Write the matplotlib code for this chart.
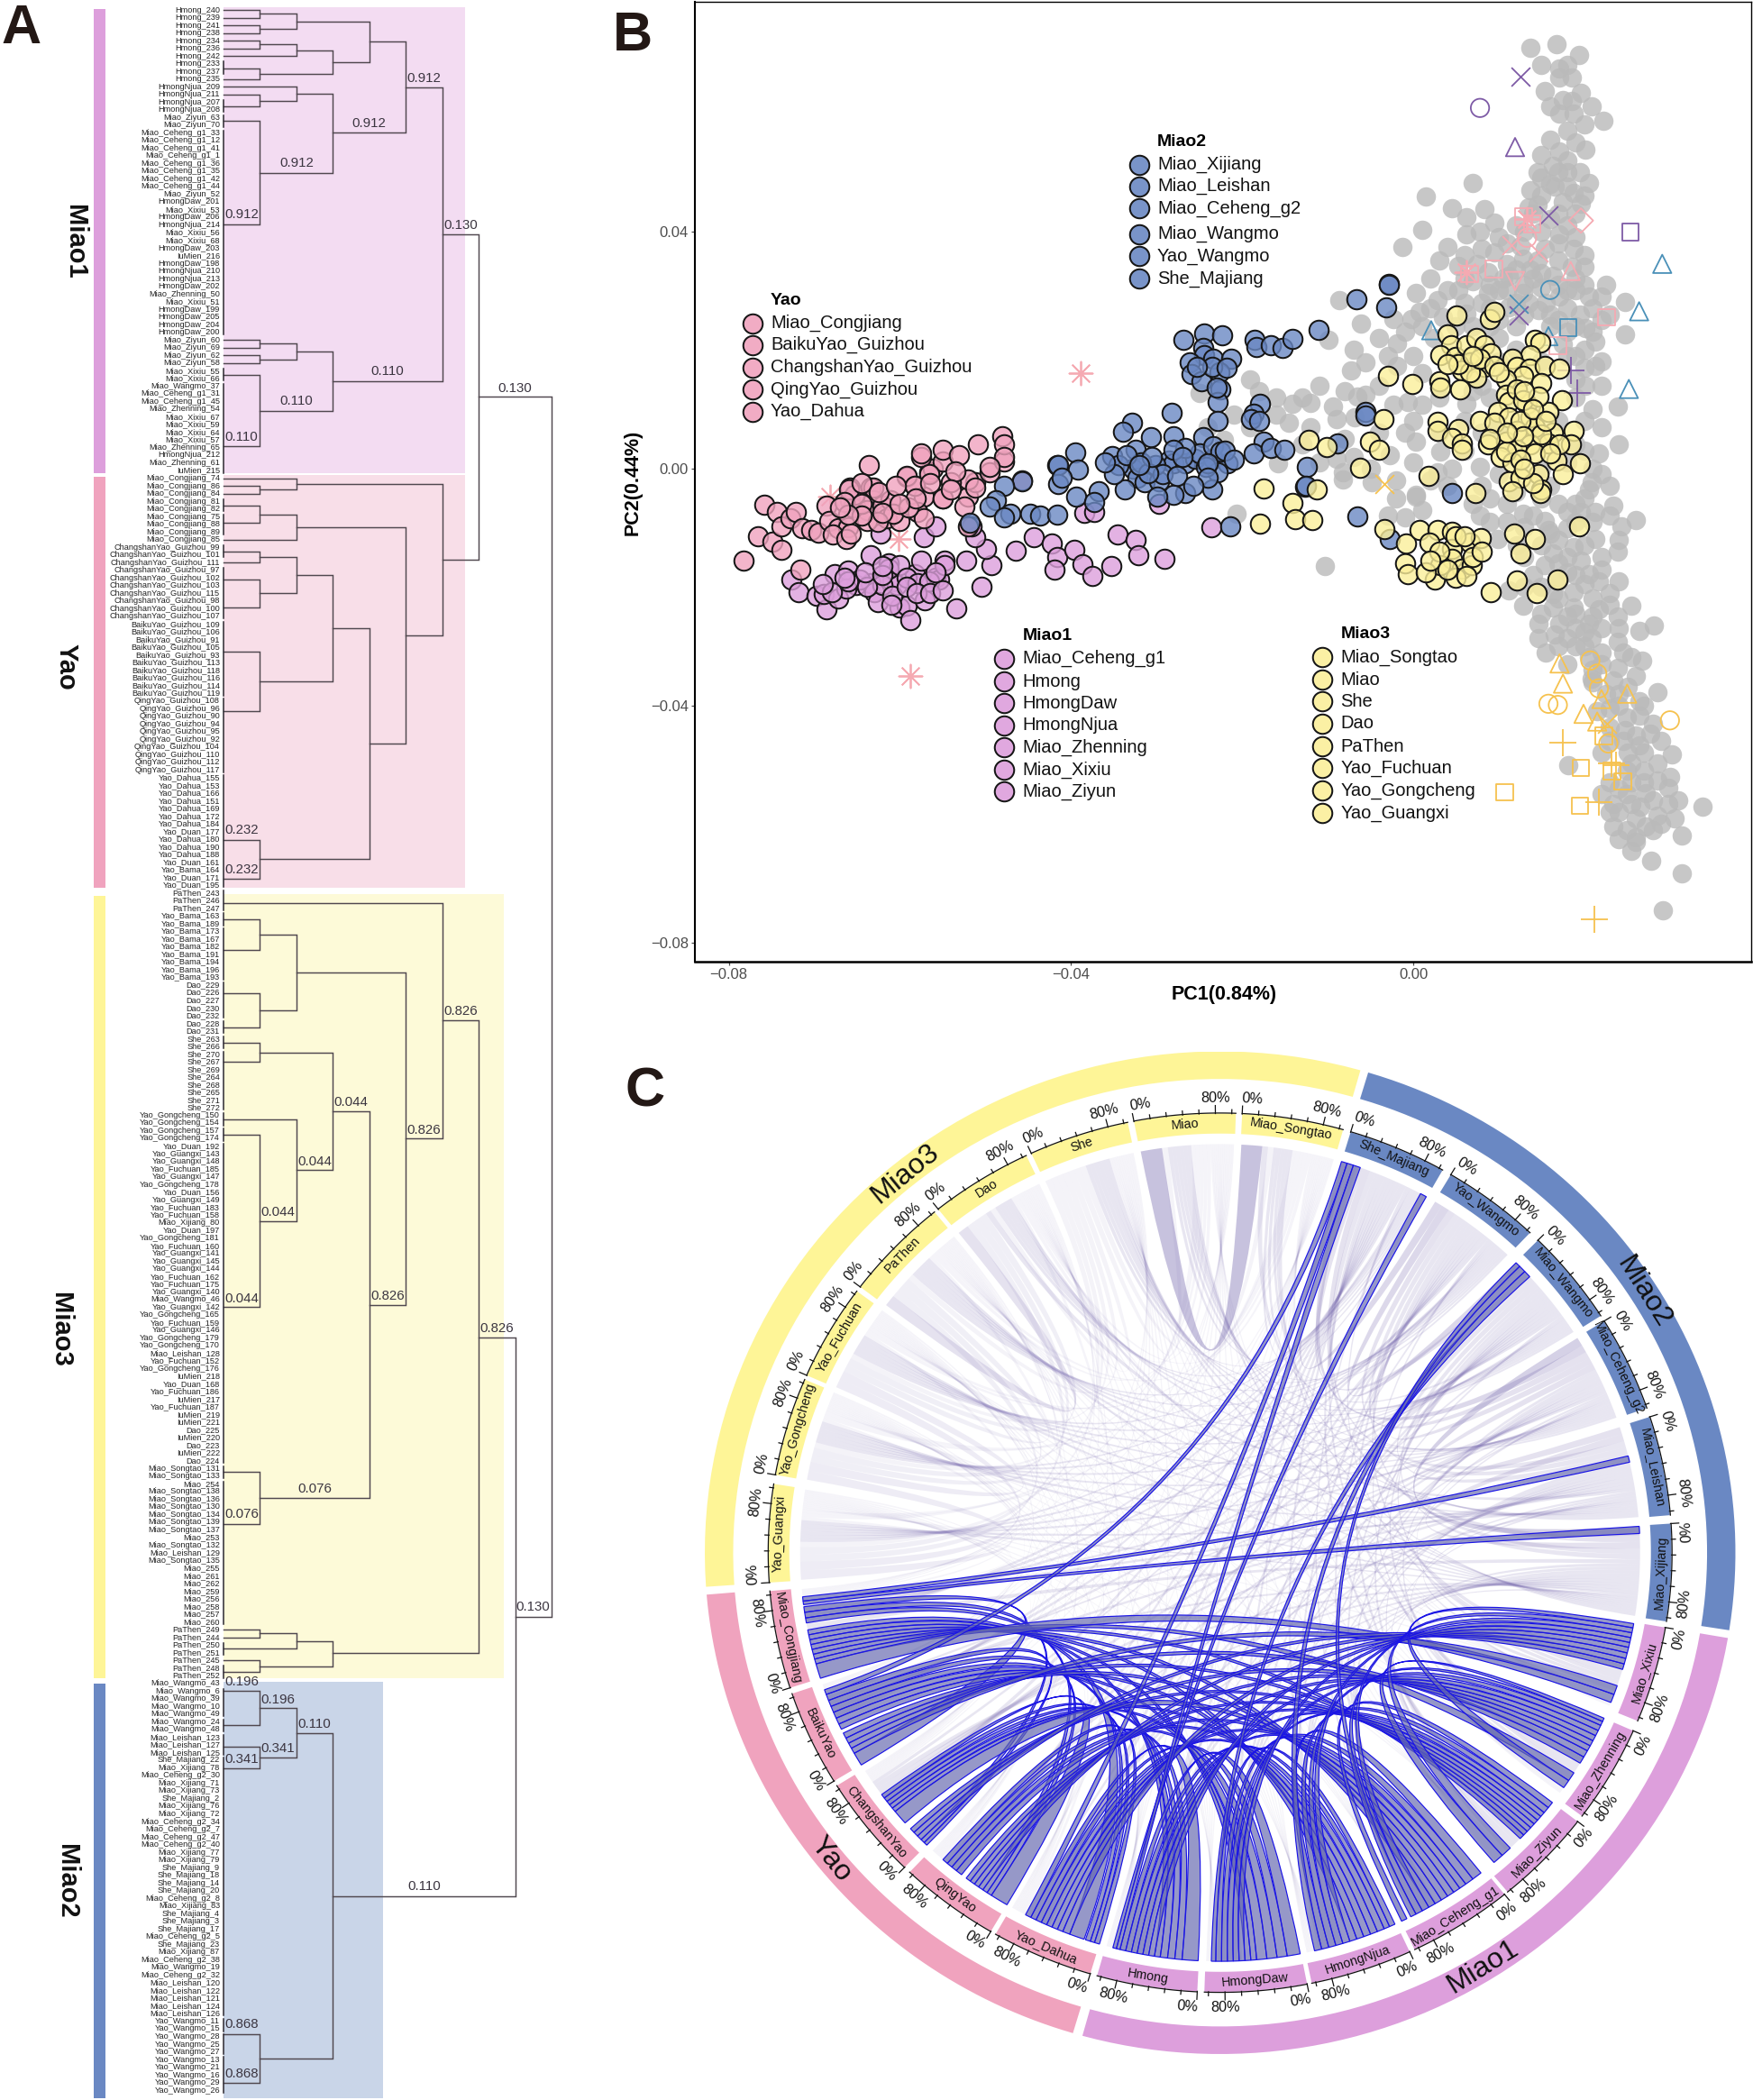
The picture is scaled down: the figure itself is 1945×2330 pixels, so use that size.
import numpy as np
import matplotlib
matplotlib.use("Agg")
import matplotlib.pyplot as plt
from matplotlib.patches import Rectangle, PathPatch
from matplotlib.path import Path
from matplotlib.colors import to_rgba

plt.rcParams['font.family'] = ['Liberation Sans', 'DejaVu Sans']

# ---------------------------------------------------------
# PANEL A DATA (dendrogram)
# ---------------------------------------------------------
LEAVES_MIAO1 = """Hmong_240 Hmong_239 Hmong_241 Hmong_238 Hmong_234 Hmong_236 Hmong_242 Hmong_233 Hmong_237 Hmong_235
HmongNjua_209 HmongNjua_211 HmongNjua_207 HmongNjua_208 Miao_Ziyun_63 Miao_Ziyun_70 Miao_Ceheng_g1_33 Miao_Ceheng_g1_12
Miao_Ceheng_g1_41 Miao_Ceheng_g1_1 Miao_Ceheng_g1_36 Miao_Ceheng_g1_35 Miao_Ceheng_g1_42 Miao_Ceheng_g1_44 Miao_Ziyun_52
HmongDaw_201 Miao_Xixiu_53 HmongDaw_206 HmongNjua_214 Miao_Xixiu_56 Miao_Xixiu_68 HmongDaw_203 IuMien_216 HmongDaw_198
HmongNjua_210 HmongNjua_213 HmongDaw_202 Miao_Zhenning_50 Miao_Xixiu_51 HmongDaw_199 HmongDaw_205 HmongDaw_204 HmongDaw_200
Miao_Ziyun_60 Miao_Ziyun_69 Miao_Ziyun_62 Miao_Ziyun_58 Miao_Xixiu_55 Miao_Xixiu_66 Miao_Wangmo_37 Miao_Ceheng_g1_31
Miao_Ceheng_g1_45 Miao_Zhenning_54 Miao_Xixiu_67 Miao_Xixiu_59 Miao_Xixiu_64 Miao_Xixiu_57 Miao_Zhenning_65 HmongNjua_212
Miao_Zhenning_61 IuMien_215""".split()
LEAVES_YAO = """Miao_Congjiang_74 Miao_Congjiang_86 Miao_Congjiang_84 Miao_Congjiang_81 Miao_Congjiang_82 Miao_Congjiang_75
Miao_Congjiang_88 Miao_Congjiang_89 Miao_Congjiang_85 ChangshanYao_Guizhou_99 ChangshanYao_Guizhou_101 ChangshanYao_Guizhou_111
ChangshanYao_Guizhou_97 ChangshanYao_Guizhou_102 ChangshanYao_Guizhou_103 ChangshanYao_Guizhou_115 ChangshanYao_Guizhou_98
ChangshanYao_Guizhou_100 ChangshanYao_Guizhou_107 BaikuYao_Guizhou_109 BaikuYao_Guizhou_106 BaikuYao_Guizhou_91
BaikuYao_Guizhou_105 BaikuYao_Guizhou_93 BaikuYao_Guizhou_113 BaikuYao_Guizhou_118 BaikuYao_Guizhou_116 BaikuYao_Guizhou_114
BaikuYao_Guizhou_119 QingYao_Guizhou_108 QingYao_Guizhou_96 QingYao_Guizhou_90 QingYao_Guizhou_94 QingYao_Guizhou_95
QingYao_Guizhou_92 QingYao_Guizhou_104 QingYao_Guizhou_110 QingYao_Guizhou_112 QingYao_Guizhou_117 Yao_Dahua_155 Yao_Dahua_153
Yao_Dahua_166 Yao_Dahua_151 Yao_Dahua_169 Yao_Dahua_172 Yao_Dahua_184 Yao_Duan_177 Yao_Dahua_180 Yao_Dahua_190 Yao_Dahua_188
Yao_Duan_161 Yao_Bama_164 Yao_Duan_171 Yao_Duan_195""".split()
LEAVES_MIAO3 = """PaThen_243 PaThen_246 PaThen_247 Yao_Bama_163 Yao_Bama_189 Yao_Bama_173 Yao_Bama_167 Yao_Bama_182 Yao_Bama_191
Yao_Bama_194 Yao_Bama_196 Yao_Bama_193 Dao_229 Dao_226 Dao_227 Dao_230 Dao_232 Dao_228 Dao_231 She_263 She_266 She_270 She_267
She_269 She_264 She_268 She_265 She_271 She_272 Yao_Gongcheng_150 Yao_Gongcheng_154 Yao_Gongcheng_157 Yao_Gongcheng_174
Yao_Duan_192 Yao_Guangxi_143 Yao_Guangxi_148 Yao_Fuchuan_185 Yao_Guangxi_147 Yao_Gongcheng_178 Yao_Duan_156 Yao_Guangxi_149
Yao_Fuchuan_183 Yao_Fuchuan_158 Miao_Xijiang_80 Yao_Duan_197 Yao_Gongcheng_181 Yao_Fuchuan_160 Yao_Guangxi_141 Yao_Guangxi_145
Yao_Guangxi_144 Yao_Fuchuan_162 Yao_Fuchuan_175 Yao_Guangxi_140 Miao_Wangmo_46 Yao_Guangxi_142 Yao_Gongcheng_165 Yao_Fuchuan_159
Yao_Guangxi_146 Yao_Gongcheng_179 Yao_Gongcheng_170 Miao_Leishan_128 Yao_Fuchuan_152 Yao_Gongcheng_176 IuMien_218 Yao_Duan_168
Yao_Fuchuan_186 IuMien_217 Yao_Fuchuan_187 IuMien_219 IuMien_221 Dao_225 IuMien_220 Dao_223 IuMien_222 Dao_224 Miao_Songtao_131
Miao_Songtao_133 Miao_254 Miao_Songtao_138 Miao_Songtao_136 Miao_Songtao_130 Miao_Songtao_134 Miao_Songtao_139 Miao_Songtao_137
Miao_253 Miao_Songtao_132 Miao_Leishan_129 Miao_Songtao_135 Miao_255 Miao_261 Miao_262 Miao_259 Miao_256 Miao_258 Miao_257
Miao_260 PaThen_249 PaThen_244 PaThen_250 PaThen_251 PaThen_245 PaThen_248 PaThen_252""".split()
LEAVES_MIAO2 = """Miao_Wangmo_43 Miao_Wangmo_6 Miao_Wangmo_39 Miao_Wangmo_10 Miao_Wangmo_49 Miao_Wangmo_24 Miao_Wangmo_48
Miao_Leishan_123 Miao_Leishan_127 Miao_Leishan_125 She_Majiang_22 Miao_Xijiang_78 Miao_Ceheng_g2_30 Miao_Xijiang_71 Miao_Xijiang_73
She_Majiang_2 Miao_Xijiang_76 Miao_Xijiang_72 Miao_Ceheng_g2_34 Miao_Ceheng_g2_7 Miao_Ceheng_g2_47 Miao_Ceheng_g2_40 Miao_Xijiang_77
Miao_Xijiang_79 She_Majiang_9 She_Majiang_18 She_Majiang_14 She_Majiang_20 Miao_Ceheng_g2_8 Miao_Xijiang_83 She_Majiang_4
She_Majiang_3 She_Majiang_17 Miao_Ceheng_g2_5 She_Majiang_23 Miao_Xijiang_87 Miao_Ceheng_g2_38 Miao_Wangmo_19 Miao_Ceheng_g2_32
Miao_Leishan_120 Miao_Leishan_122 Miao_Leishan_121 Miao_Leishan_124 Miao_Leishan_126 Yao_Wangmo_11 Yao_Wangmo_15 Yao_Wangmo_28
Yao_Wangmo_25 Yao_Wangmo_27 Yao_Wangmo_13 Yao_Wangmo_21 Yao_Wangmo_16 Yao_Wangmo_29 Yao_Wangmo_26""".split()
LEAVES = LEAVES_MIAO1 + LEAVES_YAO + LEAVES_MIAO3 + LEAVES_MIAO2

# merges: parent height, first child (leaf row, height), second child (leaf row, height)
MERGES = [
    (1, 0, 0, 1, 0), (1, 2, 0, 3, 0), (2, 0.5, 1, 2.5, 1), (1, 4, 0, 5, 0), (2, 4.5, 1, 6, 0),
    (1, 7.6, 0, 9, 0), (3, 5.25, 2, 8.3, 1), (4, 1.5, 2, 6.8, 3), (1, 11, 0, 12.6, 0), (2, 10, 0, 11.8, 1),
    (1, 14.5, 0, 27.9, 0), (3, 10.9, 2, 21.2, 1), (5, 4.15, 4, 16, 3), (1, 43, 0, 44, 0), (1, 45, 0, 46, 0),
    (2, 43.5, 1, 45.5, 1), (1, 47.6, 0, 56.8, 0), (3, 44.5, 2, 52.2, 1), (6, 10.1, 5, 48.35, 3),
    (1, 62, 0, 63, 0), (2, 61, 0, 62.5, 1), (1, 64.55, 0, 66.8, 0), (2, 65.7, 1, 69, 0), (1, 70.6, 0, 72, 0),
    (1, 74.15, 0, 77.8, 0), (2, 71.3, 1, 76, 1), (1, 83.65, 0, 91.4, 0), (3, 73.65, 2, 87.5, 1),
    (1, 108.1, 0, 113.2, 0), (4, 80.6, 3, 110.65, 1), (5, 67.35, 2, 95.6, 4), (6, 61.75, 2, 81.5, 5),
    (7, 29.2, 6, 71.6, 6),
    (1, 118.5, 0, 122.5, 0), (1, 128.1, 0, 132.6, 0), (2, 120.5, 1, 130.3, 1), (1, 134.55, 0, 137, 0),
    (1, 146.5, 0, 169, 0), (2, 144.5, 0, 157.75, 1), (3, 135.8, 1, 151.1, 2), (1, 190.5, 0, 197.3, 0),
    (4, 143.45, 3, 193.9, 1), (5, 125.4, 2, 168.7, 4), (6, 116.3, 0, 147, 5), (1, 211, 0, 212, 0),
    (2, 211.5, 1, 213.5, 0), (1, 215, 0, 216.5, 0), (3, 212.5, 2, 215.75, 1), (7, 131.65, 6, 214.1, 3),
    (1, 219, 0, 223.4, 0), (1, 226.3, 0, 229.1, 0), (2, 221.2, 1, 227.7, 1), (1, 263.7, 0, 270.1, 0),
    (3, 224.45, 2, 266.9, 1), (8, 172.9, 7, 245.7, 3), (9, 50.4, 7, 209.3, 8),
]
# runs of leaves that share one node at height 0
LEAF_RUNS = [(7, 8), (12, 13), (14, 15), (16, 42), (47, 48), (49, 60), (64, 65), (66, 68), (70, 71), (73, 79),
             (80, 89), (90, 99), (100, 114), (115, 117), (118, 119), (120, 126), (127, 131), (132, 133), (134, 135),
             (136, 143), (144, 145), (146, 147), (148, 189), (190, 191), (192, 210), (213, 214), (216, 217),
             (219, 222), (223, 224), (225, 227), (228, 261), (262, 263), (264, 266), (267, 271)]
NODE_VALUES = [
    ("0.912", 5.5, 8.9), ("0.912", 4, 14.85), ("0.912", 2, 20), ("0.912", 0.5, 26.6), ("0.130", 6.5, 28.05),
    ("0.110", 4.5, 47.1), ("0.110", 2, 51), ("0.110", 0.5, 55.6), ("0.130", 8, 49.3),
    ("0.232", 0.5, 106.9), ("0.232", 0.5, 112),
    ("0.826", 6.5, 130.5), ("0.826", 5.5, 145.9), ("0.044", 3.5, 142.3), ("0.044", 2.5, 150), ("0.044", 1.5, 156.6),
    ("0.044", 0.5, 167.9), ("0.826", 4.5, 167.6), ("0.826", 7.5, 171.8), ("0.076", 2.5, 192.7), ("0.076", 0.5, 196),
    ("0.130", 8.5, 208.1), ("0.196", 0.5, 217.8), ("0.196", 1.5, 220.1), ("0.110", 2.5, 223.3), ("0.341", 1.5, 226.5),
    ("0.341", 0.5, 227.9), ("0.110", 5.5, 244.5), ("0.868", 0.5, 262.4), ("0.868", 0.5, 268.9),
]

# ---------------------------------------------------------
# PANEL B DATA (PCA, values in units of 0.001)
# ---------------------------------------------------------
YAO_POINTS = [(-78.3, -15.5), (-76.6, -11.5), (-74.9, -12.4), (-73.8, -13.8), (-75.8, -6.2), (-74.4, -7.4), (-73.8, -9.8),
              (-72.8, -8.4), (-72.2, -7.3), (-71.4, -10.1), (-70.4, -10.4), (-69.5, -10.8), (-71.6, -17), (-68.6, -6.3),
              (-68.3, -8.8), (-67.2, -10.1), (-65.8, -3.2), (-65.8, -5.4), (-65.5, -6.6), (-65.3, -4.5), (-63.4, -3.2),
              (-63.1, -5.4), (-63.8, -7), (-63.8, -8.8), (-62.1, -6.3), (-61.5, -8.4), (-61.1, -5.4), (-60, -8.8),
              (-59.2, -1.4), (-58.3, -2.9), (-56.6, -0.7), (-56.2, -0.1), (-57.5, 2), (-55, 1.1), (-57.2, -4.8), (-55, -5.1),
              (-57.9, -7.3), (-57.2, -8.4), (-52, -4.8), (-51.2, -2.3), (-49.5, -0.7), (-47.8, 1.1), (-63.6, 0.6), (-57.5, 2.5),
              (-55, 3.1), (-53.1, 2.2), (-50.9, 4), (-48, 5.4), (-47.8, 4), (-47.8, 1.9), (-49.5, 0.2), (-59.2, -1.2),
              (-56.6, -1), (-52, -1.9), (-51.2, -3.3), (-45.7, -2), (-65.9, -3.6), (-63.1, -3.3), (-58.3, -2.9), (-55, -5.1),
              (-66.5, -5.7), (-64.5, -6), (-60.8, -7.6), (-62.6, -9), (-59, -6.6), (-58.2, -5), (-66, -10), (-67.8, -11.2),
              (-52.5, -6.4), (-66.3, -11.9), (-65.7, -11), (-52, -9.8), (-64.5, -2.5), (-62.5, -4), (-60.5, -3), (-62, -7.5),
              (-64.5, -8), (-66, -7.8), (-60, -6), (-67, -6.6), (-56.5, -2.5), (-54, -2.4), (-53.5, -0.5), (-54, -3.5)]
MIAO1_POINTS = [(-72.7, -18.8), (-71.8, -20.9), (-69.7, -21.5), (-68.6, -23.7), (-68.9, -21.2), (-67.2, -21.9), (-67.6, -17.8),
                (-66.1, -17.2), (-65.1, -19.7), (-63.4, -14.7), (-63.4, -19.4), (-63, -20.9), (-62.6, -22.5), (-61.3, -16),
                (-60.9, -19.1), (-60.4, -19.7), (-60, -23.4), (-59.2, -23.1), (-58.8, -25.6), (-58.3, -17.8), (-57.5, -15.6),
                (-57.1, -22.2), (-55.8, -18.4), (-55.4, -18.8), (-54.8, -15.6), (-53.4, -23.6), (-52.2, -15.5), (-50.5, -19.9),
                (-49.3, -16.3), (-49.9, -13.5), (-51.2, -11.6), (-51.6, -9.8), (-46.5, -13.9), (-44.3, -11.6), (-42.2, -12.7),
                (-41.6, -15), (-41.9, -17), (-39.6, -13.7), (-38.7, -16.1), (-37.5, -18.1), (-35.3, -16.5), (-34.6, -11.2),
                (-32.4, -12), (-32.1, -14.7), (-29.1, -15.2), (-23.6, -9.9), (-38.5, -7.5), (-37.3, -7.3), (-29.7, -6),
                (-57.2, -11.6), (-55.8, -9.8), (-62.3, -11), (-61.3, -16.9), (-60, -16.3), (-59.2, -18.4), (-57.9, -19.4),
                (-56.6, -19.1), (-64.7, -18.8), (-66.3, -20.3), (-68, -20.9), (-62.1, -19.7), (-60.9, -21.5), (-59.2, -20),
                (-54.8, -16.3), (-55.8, -17.5), (-63.8, -20), (-66, -19), (-64, -17.5), (-62, -18), (-61, -23), (-58, -21),
                (-56.5, -21), (-55, -20.5), (-66.5, -18.5), (-69, -19.5), (-62, -16.5)]
MIAO2_POINTS = [(-11.1, 23.3), (-6.6, 28.6), (-3.2, 27.2), (-2.8, 31.1), (-2.8, 31), (-26.9, 21.7), (-24.4, 22.7), (-22.3, 22.5),
                (-18.5, 21.7), (-18.3, 20.5), (-16.6, 20.8), (-15.3, 20.3), (-14.1, 21.9), (-24.6, 20.3), (-24.4, 19.1),
                (-23.4, 18.5), (-21.3, 18.5), (-26.1, 17.9), (-25.9, 15.9), (-24.8, 14.7), (-22.7, 16.2), (-22.5, 13.3),
                (-22.9, 11.2), (-17.9, 10.9), (-18.7, 9.2), (-19, 8.3), (-22.9, 8), (-28.2, 9.4), (-32.9, 7.7), (-33.9, 6.2),
                (-30.7, 5.2), (-28, 5.4), (-24.6, 5.2), (-39.5, 2.7), (-41.6, 0.6), (-41.5, 0.5), (-39.2, -0.2), (-35.2, 2.1),
                (-32.5, 3.1), (-32.8, -0.1), (-34.5, 0.5), (-32.2, -1.6), (-33.7, -3.5), (-31.4, -2.4), (-29.7, -2.2),
                (-28.6, 1.3), (-28, 0.8), (-26.7, 0.8), (-25.5, 1.6), (-25, 2.5), (-23.4, 1.6), (-21.7, 0.8), (-22.9, -0.7),
                (-23.5, -3.6), (-26.7, -4.2), (-28, -4.5), (-29.9, -4.8), (-41.5, -2.7), (-41.1, -1.6), (-39.4, -4.8),
                (-36.8, -3.9), (-37.3, -5.6), (-45.7, -2.2), (-47.8, -3), (-48.8, -5.4), (-49.5, -6.5), (-47.1, -7.7),
                (-44.8, -7.7), (-43.6, -8), (-41.6, -7.8), (-51.8, -9.1), (-47.8, -8.3), (-17.5, 4.5), (-18.7, 2.5),
                (-16.6, 3.4), (-15.1, 3.1), (-8.9, 4.2), (-12.4, 0.3), (-12.6, -3.1), (-12.5, -3), (-5.6, 9.5), (-5.6, 8.9),
                (-6.5, -8.1), (4.5, -4.2), (-2.7, -11.9), (-21.4, -9.8), (-30.1, 0.5), (-31.8, 1), (-33.5, 2.2), (-29.3, -1),
                (-27.6, -1.3), (-23.4, 3.7), (-22.5, 2.8), (-26.7, 3.4), (-24.2, 0.2), (-31, -0.8), (-30.5, 2), (-32, 0.5),
                (-28, 3.2), (-27, 2), (-24, 0.9), (-22, 3), (-21, 1.5), (-24, -1.6), (-25.7, -3), (-35, -1), (-36, 1), (-18, 8),
                (-23, 13.7), (-23.5, 17.2), (-21.8, 17), (-25.3, 17.2)]
MIAO3_POINTS = [(5.1, 25.8), (8.9, 25.2), (9.5, 26.4), (4, 22.6), (4.4, 20.8), (3.2, 19.1), (4.9, 18.8), (6.2, 20.8), (7.4, 22),
                (8.3, 20.8), (9.1, 19.4), (6.6, 17.9), (8.3, 17.1), (5.7, 16.5), (7.4, 15.3), (-3, 15.6), (-0.1, 14.3), (3, 14.7),
                (3.2, 13.6), (5.5, 13.4), (6.6, 16.2), (14.2, 21.7), (14.8, 21.3), (13.7, 19.1), (11.6, 18.5), (12.1, 17.1),
                (13.6, 16.8), (15.4, 17.3), (17.1, 16.8), (12.9, 15.6), (10.8, 15), (15, 14.4), (10.8, 12.4), (11.2, 11.2),
                (17.4, 11.5), (13.3, 10.9), (9.9, 9.5), (11.2, 8.6), (7.8, 8), (13.7, 8.6), (15.8, 9.5), (2.8, 7.9), (-3.5, 8.3),
                (5.3, 6.6), (2.8, 6.3), (4.5, 5.1), (5.7, 4.2), (5.7, 3.1), (8.7, 4), (10.8, 4.5), (12.1, 6.3), (14.2, 6.9),
                (16.3, 6), (18.8, 6.4), (18.4, 4), (15.8, 4.2), (13.7, 4), (12.1, 3.1), (10.2, 1.9), (11.6, 1), (14.2, 2.5),
                (16.7, 1.3), (19.5, 0.8), (14.6, -1), (17.5, -1), (11.2, -2.2), (12.5, -1.6), (11.6, -3.9), (15, -3.6), (14.8, -4.2),
                (1.8, -1.2), (7.3, -4.2), (-6.2, 0.1), (-5.1, 4.5), (-4, 3.1), (-12.2, 4.8), (-10.1, 3.6), (-17.5, -3.4), (-11.3, -3.6),
                (-14.1, -5.8), (-17.9, -9.3), (-13.8, -8.6), (-11.8, -8.7), (-3.4, -10.2), (-0.8, -12.7), (-1, -16), (-0.6, -17.8),
                (2.5, -18.8), (0.7, -10.4), (2.8, -10.4), (4.5, -10.7), (1.9, -12.5), (4.5, -13.5), (6.6, -12.5), (7.9, -11.8),
                (4.5, -15.3), (3.2, -16.3), (1.5, -17.5), (5.7, -16.9), (6.8, -16.3), (4.9, -18.4), (6.2, -18.1), (9.1, -20.9),
                (12.1, -18.9), (14.4, -21.1), (16.9, -18.8), (11.8, -11), (14.2, -11.9), (12.5, -14.4), (19.4, -9.7), (12.1, 13.3),
                (12.9, 11.5), (14.6, 12.1), (9.5, 7.7), (12.5, 8), (15, 5.7), (12.9, 5.4), (17.1, 4), (10.8, 2.8), (7.8, 18.5),
                (5.3, 17.6), (9.5, 17.3), (4, 17.6), (7, 19), (10, 16.2), (13, 13), (14, 10), (15.5, 8), (11, 6), (9, 5), (12.5, 1.5),
                (16, 2.5), (14, -2.5), (13, 0), (5, -11.5), (3, -14), (2, -15.5), (4, -17), (7, -15), (6, -11.5), (8, -14)]
OTHER_POINTS = [(13.7, 70.9), (16.7, 71.5), (19.4, 69.8), (17.1, 67.4), (18, 68), (15.4, 63.6), (17.1, 65.9), (19.6, 63.3), (17.5, 62.2),
                (20.9, 61), (22.2, 58.7), (17.1, 59.8), (18.8, 59.8), (18, 56.9), (20.1, 53.7), (15, 52.8), (17.1, 53.4), (16.3, 51.1),
                (18, 49.9), (20.5, 48.2), (7, 48.2), (13.7, 47), (18.8, 46.4), (19.6, 44.7), (1.5, 45.9), (4.5, 43.9), (6.2, 42.4),
                (8.3, 43.8), (1.1, 40.3), (-1.3, 37.4), (4, 37.4), (6.2, 39.5), (7.8, 40), (17.1, 39.5), (15.4, 37.1), (18.8, 37.1),
                (12.9, 35.4), (9.5, 36.5), (5.3, 34.2), (8.7, 33.1), (11.2, 32.5), (13.7, 33.6), (16.3, 32.5), (5.3, 30.1), (8.7, 29.6),
                (12.9, 29.6), (17.1, 29), (20.5, 29), (0.3, 29.6), (2.8, 28.4), (-8.6, 28.4), (-6.1, 24.4), (0.7, 26.4), (-2.3, 25.2),
                (-0.2, 25.2), (6.2, 26.1), (11.2, 27.2), (14.6, 26.7), (24.7, 28.1), (21.3, 21.4), (24.7, 22.6), (20.1, 23.7), (-1.9, 21.1),
                (2.4, 22), (-9.9, 21.7), (-5.6, 17.9), (-7.3, 16.5), (-1.9, 17.3), (-19.1, 15), (-5.6, 12.4), (-0.6, 11.2), (21.3, 17.3),
                (20.1, 13.9), (23.9, 10.4), (-14.1, 10.9), (-9.4, 10.4), (-25, 12.7), (-6.5, 12.1), (-6.9, 8.6), (-22.1, 4.8), (-19.1, 6.9),
                (-14.5, 7.7), (-9, 8.3), (-2.3, 10.7), (1.1, 10.7), (6.2, 10.9), (0.3, 4.5), (-2.7, 2.2), (3.2, 2.8), (21.7, 2.5), (-9, 1.6),
                (-15.8, 0.8), (-8.2, -0.7), (-8.2, -1.9), (-4.8, -2.4), (2.8, -0.7), (0.3, -4.8), (4.5, -0.1), (7.8, 0.2), (20.9, -2.4),
                (10, 30), (13, 31), (15, 30.5), (17, 31), (19, 32), (9, 27), (12, 28), (15.5, 28), (18, 27), (19.5, 26), (7, 31.5), (11, 34.5),
                (14.5, 35), (17, 35), (18.5, 34), (19, 30), (21, 27), (22, 25), (16, 24), (18, 23), (12, 24), (9, 24), (7, 24), (5, 24), (18, 41),
                (16, 42), (14, 43), (17.5, 45), (15, 49), (16.5, 47.5), (14.5, 44.5), (10, 39), (12.5, 37.5), (17.5, 21), (19, 19), (20, 17),
                (19, 15), (22, 14), (3, 12), (7, 13), (10, 7), (14, 6), (17, 8), (20, 8), (19, 4), (21, 0), (8, -3), (6, 3), (3, 6), (0, 8), (-4, 6),
                (-8, 5), (-12, 7), (-16, 9), (-2, -2), (1, -7),
                (15, 68), (18.5, 66), (16, 61), (18.5, 62), (20, 58), (19, 55), (16, 55.5), (18, 52), (14.5, 50), (17, 50), (19.5, 50), (16, 48),
                (18, 47.5), (20, 46), (19, 43), (17, 43), (15, 46), (13.5, 44), (12, 41), (9.5, 41.5), (11, 38), (13, 40), (15, 40), (17, 38),
                (19, 39), (20, 36), (8, 37), (6, 36), (3, 35), (2, 32), (4, 30), (6, 28), (7.5, 34.5), (9, 31), (10.5, 32), (12, 33.5), (14, 32),
                (15, 33), (18, 30), (20, 31), (16, 26), (13, 26), (10, 25), (8, 28), (11, 30), (13.5, 28), (17, 25), (19, 24), (21, 23), (22, 29),
                (23, 26), (22.5, 31), (20, 34), (6, 32), (3.5, 25.5), (1, 24), (2, 27), (-1, 23), (-4, 22), (-7, 20), (-3, 19), (0, 19), (1, 16),
                (-4, 14), (-8, 13), (-11, 14), (-12, 11), (-16, 12), (-18, 13), (-21, 9), (-24, 7), (10, 22), (12, 20), (10, 18), (8, 14), (15, 18),
                (18, 19), (20, 20), (22, 18), (19, 12), (21, 10), (22, 7), (9, 12), (6, 8), (8, 6), (12, 2), (15, 0), (18, 1), (20, 3), (22, -1),
                (24, 4), (23, -3), (10, -1), (9, -5), (12, -4), (16, -3), (20, -5), (23, -8), (17, -6), (14, -8), (11, -9), (9, -9), (19, -9),
                (-2, -5), (2, -2), (0, 1), (-5, 0), (-11, 1), (-13, 4), (-7, 2), (-1, 6), (-13, 12), (-3, -8),
                (-20.6, -7.6), (-10.3, -16.4), (-1, -8.2), (0.3, -4.5), (7.8, -7.9), (20.5, -3.5), (23.4, -6.3), (21.3, -7.3), (26, -8.7),
                (24.3, -9.7), (12.9, -7.6), (15.4, -8.8), (18, -7.3), (19.6, -7.3), (9.9, -11.9), (12.1, -12.9), (15.8, -10.4), (18, -10.1),
                (21.3, -11.9), (23.9, -14.1), (18.8, -13.2), (16.3, -14.4), (19.6, -15.6), (15.4, -16.3), (18, -17.5), (20.5, -17.8),
                (11.2, -20.6), (16.3, -21.2), (18.8, -20.9), (21.7, -19.1), (12.9, -23.1), (16.3, -23.4), (18.8, -23.4), (25.5, -23.1),
                (21.7, -23.7), (14.6, -26.2), (17.1, -26.2), (20.5, -26.2), (23.9, -25), (28.1, -26.5), (26.4, -27.4), (14.6, -28.7), (18, -28.7),
                (20.9, -28.7), (23.9, -29.3), (25.5, -31.8), (20.5, -31.8), (23.9, -33.7), (26.8, -32.4), (25.1, -36.8), (23.4, -35.8),
                (20.9, -35.5), (26.4, -39.2), (28.5, -37.7), (23, -40.5), (26.4, -41.7), (27.7, -44.8), (24.7, -44.2), (26.4, -46.7), (30.2, -48.3),
                (28.5, -49.8), (25.5, -49.8), (18.1, -50.1), (28.5, -52.6), (29.8, -53.8), (25.5, -52.9), (27.2, -54.8), (25.5, -56.6), (28.5, -58.5),
                (33.8, -57.1), (23.4, -60.4), (27.2, -60.4), (31.4, -61.9), (25.5, -64.5), (27.8, -66.1), (31.4, -68.3), (29.2, -74.5), (29.8, -56.6),
                (23.4, -56.6), (26, -62.2), (25.1, -47.9), (23, -43.6), (21, -34), (19, -30), (22, -31), (24, -27), (22.5, -38), (25, -42), (26, -45),
                (24, -58), (26, -59), (28, -56), (25, -55), (17, -19), (14, -18), (21, -22), (23, -21), (17, -12), (13, -10), (21, -9), (24, -12),
                (19, -6), (15, -5), (11, -6), (7, -6), (4, -3), (19, -24.5), (20, -27.5), (15.5, -31), (18, -33), (23, -46), (27, -51),
                (16, -11), (20, -13), (22, -15), (18, -15), (15, -13), (13, -15), (17, -16), (20, -19.5), (15, -20), (13, -20), (17, -22), (15, -24.5),
                (18, -25), (21, -25), (23, -23), (24, -19), (22, -17), (19, -18), (16.5, -28), (19, -27), (22, -27), (20, -30), (17, -30), (22, -33),
                (24.5, -31), (21, -36), (24, -38), (26, -35), (24, -40), (21.5, -41), (24.5, -46), (22, -48), (25, -51), (27, -48), (28, -43), (27, -40),
                (29, -46), (23, -53), (27, -53), (24, -54), (26.5, -57), (30, -52), (31, -56), (28, -61), (25, -61), (29, -60), (30.5, -59), (26, -63),
                (24, -62.5), (23, -58), (22, -55)]
# open reference samples: colour key, marker, list of points
REFERENCE_MARKS = [
    ("violet", "x", [(12.5, 66.1), (15.8, 42.7), (12.3, 25.8)]), ("violet", "o", [(7.8, 60.8)]), ("violet", "^", [(11.9, 54.2)]),
    ("violet", "s", [(25.4, 39.9)]), ("violet", "+", [(19.2, 12.7), (18.4, 16.6)]),
    ("teal", "^", [(29.1, 34.5), (26.4, 26.5), (2.1, 23.3), (25.2, 13.4), (15.8, 22.3)]), ("teal", "o", [(16, 30.1)]),
    ("teal", "s", [(18.1, 23.7)]), ("teal", "x", [(12.3, 27.8)]),
    ("salmon", "s", [(12.9, 42.4), (13.9, 41.2), (6.6, 32.8), (9.4, 33.6), (22.6, 25.5), (16.9, 20.7)]), ("salmon", "D", [(19.6, 41.8)]),
    ("salmon", "o", [(13.3, 38.9)]), ("salmon", "x", [(11.5, 37.7), (14.6, 36.5)]), ("salmon", "^", [(18.4, 33.3)]), ("salmon", "v", [(11.9, 31.6)]),
    ("salmon", "*", [(6.2, 33.1), (-38.9, 16.1), (13.3, 42.1), (-58.8, -35), (-68.2, -4.8), (-67.2, -10), (-60.2, -11.9)]),
    ("amber", "x", [(-3.4, -2.6), (22.6, -43)]),
    ("amber", "^", [(17.1, -32.9), (17.5, -36.3), (19.9, -41.4), (22, -38.9), (25, -38), (21.5, -42.7)]),
    ("amber", "o", [(20.7, -32.4), (21.5, -34.6), (21.7, -37.1), (15.8, -39.7), (16.9, -39.9), (30, -42.5), (22.8, -46.4)]),
    ("amber", "s", [(10.7, -54.6), (19.5, -56.9), (19.6, -50.5), (23.2, -51), (24.5, -52.8), (22.3, -45.1)]),
    ("amber", "+", [(17.5, -46.2), (21.2, -76), (21.7, -56.3), (23.7, -50.1), (23.2, -49.8)]),
]
LEGEND_YAO = ["Miao_Congjiang", "BaikuYao_Guizhou", "ChangshanYao_Guizhou", "QingYao_Guizhou", "Yao_Dahua"]
LEGEND_MIAO2 = ["Miao_Xijiang", "Miao_Leishan", "Miao_Ceheng_g2", "Miao_Wangmo", "Yao_Wangmo", "She_Majiang"]
LEGEND_MIAO1 = ["Miao_Ceheng_g1", "Hmong", "HmongDaw", "HmongNjua", "Miao_Zhenning", "Miao_Xixiu", "Miao_Ziyun"]
LEGEND_MIAO3 = ["Miao_Songtao", "Miao", "She", "Dao", "PaThen", "Yao_Fuchuan", "Yao_Gongcheng", "Yao_Guangxi"]

# ---------------------------------------------------------
# PANEL C DATA (chord diagram, angles in degrees)
# ---------------------------------------------------------
SECTOR_NAMES = ["Miao_Songtao", "Miao", "She", "Dao", "PaThen", "Yao_Fuchuan", "Yao_Gongcheng", "Yao_Guangxi",
                "Miao_Congjiang", "BaikuYao", "ChangshanYao", "QingYao", "Yao_Dahua",
                "Hmong", "HmongDaw", "HmongNjua", "Miao_Ceheng_g1", "Miao_Ziyun", "Miao_Zhenning", "Miao_Xixiu",
                "Miao_Xijiang", "Miao_Leishan", "Miao_Ceheng_g2", "Miao_Wangmo", "Yao_Wangmo", "She_Majiang"]
SECTOR_FROM = [74.2, 88, 101.8, 115.4, 129.2, 143.5, 156.8, 171, 185, 198.7, 212, 226.6, 240.2,
               254.2, 268, 281.7, 295.5, 309.5, 323.2, 337.5, -9, 4.9, 19.2, 32.6, 46.7, 60.5]
SECTOR_TO = [87.2, 101, 114.7, 128.6, 142.8, 156.2, 169.8, 183.9, 197.9, 211.3, 225.7, 239.5, 253.3,
             267.1, 281.1, 294.8, 309, 322.3, 336.1, 350.2, 3.8, 18, 31.8, 45.3, 59.3, 73.2]
GROUP_NAMES = ["Miao3", "Yao", "Miao1", "Miao2"]
GROUP_FROM = [74.2, 184.8, 254.5, -8.9]
GROUP_TO = [183.9, 253.4, 350.2, 73.3]
GROUP_LABEL_AT = [129, 219, 301.7, 32.3]
GROUP_SECTORS = [8, 5, 7, 6]
AXIS_TICKS = [0, 0.16, 0.32, 0.48, 0.64, 0.8, 0.96]

# highlighted ribbons: edges of the outlined ribbons per sector, one list per run
BOLD_EDGES = {
    8: [[186.2, 186.8, 187.3], [187.6, 188.4, 189.2, 189.9], [190.9, 191.6, 192.3, 193, 193.7, 194.4, 195.1, 195.8, 197.9]],
    9: [[199.6, 200.3, 201.2, 202.1, 203, 203.9, 204.8, 205.6], [206.2, 207, 207.8, 208.6, 209.4, 211.3]],
    10: [[216.3, 216.9, 217.5, 218.1, 218.7, 219.3, 221.4], [222.5, 223.2, 223.9, 224.6, 225.2, 225.7]],
    11: [[228.7, 229.5, 230.3, 231.1, 232], [232.8, 233.5, 234.2, 234.9, 235.6, 236.3, 237, 239.5]],
    12: [[242.4, 243.2, 244, 244.8, 245.6, 246.4, 247.2, 248, 249, 251.1], [251.3, 252, 252.6, 253.3]],
    13: [[255.2, 255.7, 256.2, 257, 257.8, 258.6, 259.4, 260.2, 261, 261.8, 262.8, 263.8, 264.8, 267]],
    14: [[268.8, 269.4, 270.2, 271, 271.8, 272.6, 273.4, 274.2, 275, 276.4, 277.8, 279.2, 281]],
    15: [[283, 284, 285, 286, 287, 288, 289, 290, 291, 292, 293, 293.8, 294.6]],
    16: [[295.6, 296.4], [297, 297.8, 298.8, 299.8, 300.8, 301.8, 302.8, 303.8, 304.8, 305.8, 307, 308.4]],
    17: [[310.7, 312.2, 313.7], [315.6, 316.3, 317, 317.7, 318.4, 319.1, 319.8, 320.5, 321.4, 322.3]],
    18: [[324.9, 326.1, 327.4], [329, 330, 331, 331.8, 332.6, 333.4, 334.2, 335, 335.6, 336.1]],
    19: [[338.5, 339.7, 341], [343.4, 344.2, 345, 345.8, 346.6, 347.3, 348, 348.7, 349.4, 350]],
    20: [[2.7, 3.7]], 21: [[12.8, 13.7]], 23: [[42.5, 43.5, 44.5, 45.2]], 25: [[60.6, 61.5], [70.5, 71.5, 72.4, 73.2]],
}
# partner sector of each outlined ribbon, same order as the edges above
BOLD_TARGETS = {
    8: [21, 20, 9, 10, 11, 12, 13, 14, 15, 16, 17, 18, 19],
    9: [25, 10, 11, 12, 13, 14, 15, 16, 17, 18, 19, 8],
    10: [11, 12, 13, 14, 15, 16, 17, 18, 19, 8, 9],
    11: [12, 13, 14, 15, 16, 17, 18, 19, 8, 9, 10],
    12: [25, 13, 14, 15, 16, 17, 18, 19, 8, 9, 10, 11],
    13: [25, 25, 14, 15, 16, 17, 18, 19, 8, 9, 10, 11, 12],
    14: [23, 15, 16, 17, 18, 19, 8, 9, 10, 11, 12, 13],
    15: [23, 16, 17, 18, 19, 8, 9, 10, 11, 12, 13, 14],
    16: [17, 23, 18, 19, 8, 9, 10, 11, 12, 13, 14, 15],
    17: [18, 19, 8, 9, 10, 11, 12, 13, 14, 15, 16],
    18: [19, 8, 9, 10, 11, 12, 13, 14, 15, 16, 17],
    19: [8, 9, 10, 11, 12, 13, 14, 15, 16, 17, 18],
    20: [8], 21: [8], 23: [14, 15, 16], 25: [13, 13, 12, 9],
}
# pale ribbons: relative strength between the unhighlighted sectors
PALE_SECTORS = [0, 1, 2, 3, 4, 5, 6, 7, 20, 21, 22, 23, 24, 25]
PALE_LOWER = [8, 9, 10, 11, 12, 13, 14, 15, 16, 17, 18, 19]
PALE_MATRIX = [
    [0, 11, 3, 2, 2, 2, 2, 2, 2, 2, 2, 3, 2, 2],
    [11, 0, 3, 2, 2, 2, 2, 2, 2, 2, 2, 2, 2, 2],
    [3, 3, 0, 3, 3, 3, 3, 3, 2, 2, 2, 2, 2, 2],
    [2, 2, 3, 0, 6, 4, 4, 4, 2, 3, 2, 2, 2, 2],
    [2, 2, 3, 6, 0, 4, 4, 4, 2, 2, 2, 2, 2, 2],
    [2, 2, 3, 4, 4, 0, 5, 5, 2, 2, 2, 2, 2, 2],
    [2, 2, 3, 4, 4, 5, 0, 5, 2, 2, 2, 2, 2, 2],
    [2, 2, 3, 4, 4, 5, 5, 0, 2, 2, 2, 2, 2, 2],
    [2, 2, 2, 2, 2, 2, 2, 2, 0, 6, 8, 5, 5, 6],
    [2, 2, 2, 3, 2, 2, 2, 2, 6, 0, 6, 5, 5, 5],
    [2, 2, 2, 2, 2, 2, 2, 2, 8, 6, 0, 6, 6, 7],
    [3, 2, 2, 2, 2, 2, 2, 2, 5, 5, 6, 0, 7, 6],
    [2, 2, 2, 2, 2, 2, 2, 2, 5, 5, 6, 7, 0, 7],
    [2, 2, 2, 2, 2, 2, 2, 2, 6, 5, 7, 6, 7, 0],
]
PALE_TO_LOWER = [
    [1, 1, 1, 1, 1, 1, 1, 1, 1, 1, 1, 1],
    [1, 1, 1, 1, 1, 1, 1, 1, 1, 1, 1, 1],
    [1, 1, 1, 1, 1, 1, 1, 1, 1, 1, 1, 1],
    [1, 1, 1, 1, 2, 1, 1, 1, 1, 1, 1, 1],
    [1, 1, 1, 2, 1, 1, 1, 1, 1, 1, 1, 1],
    [1, 2, 1, 1, 1, 1, 1, 1, 1, 1, 1, 1],
    [2, 1, 1, 1, 1, 1, 1, 1, 1, 1, 1, 1],
    [2, 1, 1, 1, 1, 1, 1, 1, 1, 1, 1, 1],
    [4, 3, 3, 3, 3, 3, 3, 3, 3, 3, 2, 2],
    [3, 3, 3, 2, 3, 3, 3, 3, 3, 2, 2, 2],
    [3, 2, 3, 3, 3, 2, 3, 3, 3, 2, 3, 2],
    [3, 3, 3, 3, 2, 3, 3, 2, 3, 3, 3, 3],
    [3, 3, 2, 3, 3, 3, 2, 3, 3, 3, 2, 3],
    [3, 3, 3, 3, 3, 3, 3, 3, 2, 3, 3, 2],
]
# pale ends on the lower sectors run on underneath the outlined ribbons
PALE_LOWER_SPAN = {8: (185.1, 191), 9: (198.8, 204), 10: (212.3, 218), 11: (226.8, 232), 12: (240.3, 246),
                   13: (254.3, 260), 14: (268.1, 273), 15: (281.9, 287), 16: (295.6, 301), 17: (311, 317),
                   18: (324, 330), 19: (338, 344)}
PALE_ALPHA = {1: 0.07, 2: 0.07, 3: 0.08, 4: 0.1, 5: 0.12, 6: 0.19, 7: 0.25, 8: 0.3, 9: 0.4}

# ---------------------------------------------------------
# STYLE
# ---------------------------------------------------------
MIAO1_COLOR = "#DD9FDC"
YAO_COLOR = "#F0A3BE"
MIAO3_COLOR = "#FEF597"
MIAO2_COLOR = "#6A88C3"
REF_COLORS = {"violet": "#7E5BA6", "teal": "#4A90B8", "salmon": "#F5AAB2", "amber": "#F6C24F"}
TREE_COLOR = "#50484f"
W, H = 1945, 2330

fig = plt.figure(figsize=(W / 100, H / 100), dpi=100, facecolor="white")


def px_axes(zorder):
    ax = fig.add_axes([0, 0, 1, 1], zorder=zorder)
    ax.set_xlim(0, W)
    ax.set_ylim(H, 0)
    ax.axis("off")
    return ax


under = px_axes(0)
over = px_axes(5)

# ---------------------------------------------------------
# PANEL A
# ---------------------------------------------------------
for y0, y1, x1, bar, shade in [(8, 525, 516, MIAO1_COLOR, "#F3DCF2"), (527, 985, 516, YAO_COLOR, "#F8DEE8"),
                               (992, 1862, 558.6, MIAO3_COLOR, "#FDFAD8"), (1866, 2328, 425.5, MIAO2_COLOR, "#C9D5E8")]:
    under.add_patch(Rectangle((248, y0), x1 - 248, y1 - y0, fc=shade, ec="none"))
    under.add_patch(Rectangle((104, y0 + 2), 13, y1 - y0 - 2, fc=bar, ec="none"))

for name, x, y in [("Miao1", 83, 268), ("Yao", 74, 740), ("Miao3", 67.5, 1475), ("Miao2", 74.5, 2087.5)]:
    over.text(x, y, name, rotation=-90, ha="center", va="center", fontsize=21, fontweight="bold", color="#111111")

LEVEL0, LEVEL_STEP = 248.0, 40.44
ROW0, ROW_STEP = 11.0, 8.517
ax_a = fig.add_axes([0, 0, 640 / W, 1], zorder=1)
ax_a.patch.set_alpha(0)
ax_a.set_xlim((0 - LEVEL0) / LEVEL_STEP, (640 - LEVEL0) / LEVEL_STEP)
ax_a.set_ylim((H - ROW0) / ROW_STEP, -ROW0 / ROW_STEP)
ax_a.axis("off")
for i, leaf in enumerate(LEAVES):
    ax_a.text(-0.1, i, leaf, ha="right", va="center", fontsize=6.6, color="#222222")
for level, ya, xa, yb, xb in MERGES:
    ax_a.plot([xa, level, level, xb], [ya, ya, yb, yb], color=TREE_COLOR, lw=1.05, solid_joinstyle="miter")
for first, last in LEAF_RUNS:
    ax_a.plot([0, 0], [first - 0.3, last + 0.3], color="#2c2830", lw=1.1)
for text, level, row in NODE_VALUES:
    ax_a.text(level, row, text, ha="center", va="center", fontsize=10.8, color="#3b3540")

# ---------------------------------------------------------
# PANEL B
# ---------------------------------------------------------
ax_b = fig.add_axes([771 / W, 1 - 1067 / H, (1943 - 771) / W, (1067 - 2) / H], zorder=2)
ax_b.set_xlim(-0.08396, 0.0395)
ax_b.set_ylim(-0.0832, 0.0787)

other = np.array(OTHER_POINTS) / 1000
ax_b.scatter(other[:, 0], other[:, 1], s=240, color="#BABABA", alpha=0.8, linewidths=0, zorder=1)
for key, marker, pts in REFERENCE_MARKS:
    pts = np.array(pts) / 1000
    shape = (8, 2, 0) if marker == "*" else marker
    size = {"+": 450, "*": 350, "x": 225, "D": 190, "s": 180}.get(marker, 215)
    if marker in ("x", "+", "*"):
        ax_b.scatter(pts[:, 0], pts[:, 1], s=size, marker=shape, color=REF_COLORS[key], linewidths=1.3, zorder=2)
    else:
        ax_b.scatter(pts[:, 0], pts[:, 1], s=size, marker=shape, facecolors="none", edgecolors=REF_COLORS[key],
                     linewidths=1.3, zorder=2)
for pts, color in [(MIAO1_POINTS, MIAO1_COLOR), (YAO_POINTS, YAO_COLOR), (MIAO2_POINTS, MIAO2_COLOR), (MIAO3_POINTS, "#FBEF9A")]:
    pts = np.array(pts) / 1000
    ax_b.scatter(pts[:, 0], pts[:, 1], s=240, facecolors=[to_rgba(color, 0.8)], edgecolors="#171717", linewidths=1.45, zorder=3)

ax_b.set_xticks([-0.08, -0.04, 0.0])
ax_b.set_xticklabels(["\u22120.08", "\u22120.04", "0.00"])
ax_b.set_yticks([-0.08, -0.04, 0.0, 0.04])
ax_b.set_yticklabels(["\u22120.08", "\u22120.04", "0.00", "0.04"])
ax_b.tick_params(labelsize=12, colors="#4d4d4d", length=3, width=0.9, pad=2)
for side, lw in [("left", 1.5), ("bottom", 1.8), ("top", 1.0), ("right", 1.0)]:
    ax_b.spines[side].set_linewidth(lw)
over.text(1358.5, 1103, "PC1(0.84%)", ha="center", va="center", fontsize=15.5, fontweight="bold")
over.text(702, 535, "PC2(0.44%)", rotation=90, ha="center", va="center", fontsize=15.5, fontweight="bold")

for title, names, color, x_mark, x_text, y_title, rows in [
    ("Yao", LEGEND_YAO, YAO_COLOR, 835, 855, 333.7, [358.6, 382.7, 407.6, 432, 456.6]),
    ("Miao2", LEGEND_MIAO2, MIAO2_COLOR, 1264, 1284, 157, [182.5, 206.7, 231, 259.5, 284, 309]),
    ("Miao1", LEGEND_MIAO1, MIAO1_COLOR, 1114, 1134.4, 706, [730.6, 756, 780, 804.5, 829, 854, 878]),
    ("Miao3", LEGEND_MIAO3, "#FBEF9A", 1467, 1487.4, 704, [729.4, 754, 778, 803, 828, 852, 877, 902]),
]:
    over.text(x_text, y_title, title, fontsize=14, fontweight="bold", va="center")
    for name, y in zip(names, rows):
        over.scatter([x_mark], [y], s=240, facecolors=[to_rgba(color, 0.9)], edgecolors="#171717", linewidths=1.45)
        over.text(x_text, y, name, fontsize=14.5, va="center", color="#111111")
over.set_xlim(0, W)
over.set_ylim(H, 0)

for letter, x, y in [("A", 1, 48), ("B", 680, 56), ("C", 694, 1228)]:
    over.text(x, y, letter, fontsize=44, fontweight="bold", color="#231815", ha="left", va="baseline")

# ---------------------------------------------------------
# PANEL C
# ---------------------------------------------------------
ax_c = fig.add_axes([782 / W, 1 - 2279 / H, (1925.5 - 782) / W, (2279 - 1166.5) / H], zorder=3)
ax_c.patch.set_alpha(0)
ax_c.set_xlim(-1, 1)
ax_c.set_ylim(-1, 1)
ax_c.axis("off")

R_RING = (0.945, 1.0)
R_BAND = (0.836, 0.876)
R_CHORD = 0.815


def on_circle(angle, r):
    a = np.radians(angle)
    return r * np.cos(a), r * np.sin(a)


def band(a0, a1, r0, r1, color):
    t = np.linspace(a0, a1, 60)
    xo, yo = on_circle(t, r1)
    xi, yi = on_circle(t[::-1], r0)
    ax_c.fill(np.r_[xo, xi], np.r_[yo, yi], color=color, lw=0)


def facing(mid, angle):
    # tick and sector texts flip with the sector's half of the circle
    return angle - 90 if 0 <= mid % 360 <= 180 else angle + 90


def ribbon(a, b):
    verts, codes = [], []
    for k, (a0, a1) in enumerate((a, b)):
        arc = np.linspace(a0, a1, 6)
        xs, ys = on_circle(arc, R_CHORD)
        if k == 0:
            verts.append((xs[0], ys[0]))
            codes.append(Path.MOVETO)
        else:
            verts += [(0, 0), (xs[0], ys[0])]
            codes += [Path.CURVE3, Path.CURVE3]
        verts += list(zip(xs[1:], ys[1:]))
        codes += [Path.LINETO] * 5
    x0, y0 = on_circle(a[0], R_CHORD)
    verts += [(0, 0), (x0, y0), (x0, y0)]
    codes += [Path.CURVE3, Path.CURVE3, Path.CLOSEPOLY]
    return Path(verts, codes)


group_colors = [MIAO3_COLOR, YAO_COLOR, MIAO1_COLOR, MIAO2_COLOR]
for name, a0, a1, at, color in zip(GROUP_NAMES, GROUP_FROM, GROUP_TO, GROUP_LABEL_AT, group_colors):
    band(a0, a1, R_RING[0], R_RING[1], color)
    x, y = on_circle(at, 0.972)
    ax_c.text(x, y, name, fontsize=23, ha="center", va="center", rotation=facing(at, at), rotation_mode="anchor", color="#111111")

sector_colors = sum(([c] * n for c, n in zip(group_colors, GROUP_SECTORS)), [])
for name, a0, a1, color in zip(SECTOR_NAMES, SECTOR_FROM, SECTOR_TO, sector_colors):
    band(a0, a1, R_BAND[0], R_BAND[1], color)
    mid = (a0 + a1) / 2
    x, y = on_circle(mid, 0.856)
    ax_c.text(x, y, name, fontsize=10.3, ha="center", va="center", rotation=facing(mid, mid), rotation_mode="anchor", color="#111111")
    xs, ys = on_circle(np.linspace(a0, a1, 30), R_BAND[1] + 0.001)
    ax_c.plot(xs, ys, color="#111111", lw=0.9)
    for tick in AXIS_TICKS:
        angle = a1 - tick * (a1 - a0)
        major = tick in (0, 0.8)
        x0, y0 = on_circle(angle, R_BAND[1])
        x1, y1 = on_circle(angle, R_BAND[1] + (0.016 if major else 0.008))
        ax_c.plot([x0, x1], [y0, y1], color="#111111", lw=0.9)
        if major:
            # the 0% text starts at its tick and runs into the sector
            at = angle - 1.15 if tick == 0 else angle
            xt, yt = on_circle(at, 0.907)
            ax_c.text(xt, yt, "0%" if tick == 0 else "80%", fontsize=11.7, ha="center", va="center",
                      rotation=facing(mid, at), rotation_mode="anchor", color="#111111")

# pale ribbons: thickest next to the 0% end of every sector
pale_links = {}
for i, s in enumerate(PALE_SECTORS):
    for j, t in enumerate(PALE_SECTORS):
        if PALE_MATRIX[i][j]:
            pale_links[(s, t)] = PALE_MATRIX[i][j]
    for j, t in enumerate(PALE_LOWER):
        pale_links[(s, t)] = PALE_TO_LOWER[i][j]
        pale_links[(t, s)] = PALE_TO_LOWER[i][j]

pale_ends = {}
for s in range(len(SECTOR_NAMES)):
    a0, a1 = PALE_LOWER_SPAN.get(s, (SECTOR_FROM[s] + 0.1, SECTOR_TO[s] - 0.1))
    mine = sorted(((w, t) for (u, t), w in pale_links.items() if u == s), key=lambda p: (p[0], p[1]))
    total = sum(w for w, _ in mine)
    pos = a0
    for w, t in mine:
        step = (a1 - a0) * w / total
        pale_ends[(s, t)] = (pos, pos + step)
        pos += step

for (s, t), w in pale_links.items():
    if s < t:
        alpha = PALE_ALPHA[min(w, 9)]
        if 20 <= t <= 25 or 20 <= s <= 25:
            alpha = max(alpha, 0.16)
        ax_c.add_patch(PathPatch(ribbon(pale_ends[(s, t)], pale_ends[(t, s)]), fc=to_rgba("#7567AE", alpha), ec="none", lw=0))

# outlined ribbons
free = {}
for s, runs in BOLD_EDGES.items():
    spans = [(run[k], run[k + 1]) for run in runs for k in range(len(run) - 1)]
    for span, t in zip(spans, BOLD_TARGETS[s]):
        free.setdefault((s, t), []).append(span)
for (s, t), spans in sorted(free.items()):
    if s < t:
        for a, b in zip(spans, free.get((t, s), [])):
            ax_c.add_patch(PathPatch(ribbon(a, b), fc=to_rgba("#6468AE", 0.68), ec="#1A14E6", lw=0.85, zorder=4))

fig.savefig("out.png", dpi=100)
